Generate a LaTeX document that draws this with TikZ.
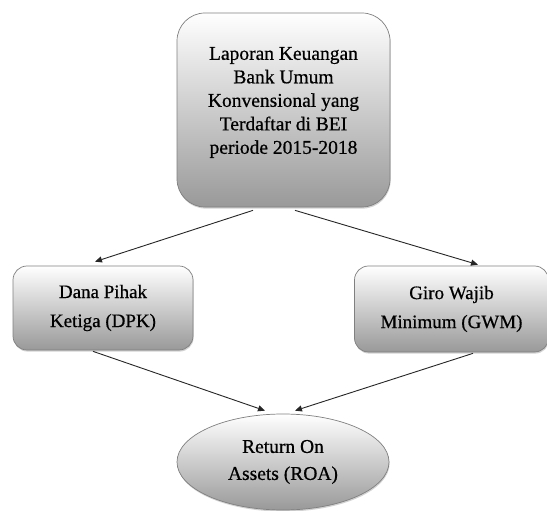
\documentclass[tikz,border=0pt]{standalone}
\usepackage{fontspec}
\setmainfont{Liberation Serif}[FakeBold=0.6]
\usetikzlibrary{arrows.meta,shapes.geometric,shadows,calc}
\begin{document}
\begin{tikzpicture}[x=1pt,y=-1pt]
\tikzset{
 boxsty/.style={draw=black!50, line width=0.7pt, top color=white, bottom color=black!40,
   drop shadow={shadow xshift=0.6pt, shadow yshift=-1.6pt, opacity=0.35}},
 bigtxt/.style={font=\fontsize{19.5}{23.5}\selectfont, align=center, inner sep=0pt},
 sidetxt/.style={font=\fontsize{19}{29}\selectfont, align=center},
 elltxt/.style={font=\fontsize{19.5}{27}\selectfont, align=center},
 arr/.style={draw=black!85, line width=0.9pt, -{Triangle[length=7pt,width=6pt]}}
}
\useasboundingbox (0,0) rectangle (547,511);
\fill[white] (0,0) rectangle (547,511);

\node[boxsty, rounded corners=28pt, minimum width=213pt, minimum height=194pt] (topbox) at (283.5,110) {};
\node[bigtxt] (toptext) at (283.5,102.5) {Laporan Keuangan\\Bank Umum\\Konvensional yang\\Terdaftar di BEI\\periode 2015-2018};

\node[boxsty, sidetxt, rounded corners=14pt, minimum width=180pt, minimum height=84pt] (dpk) at (103,308) {Dana Pihak\\Ketiga (DPK)};
\node[boxsty, sidetxt, rounded corners=14pt, minimum width=194pt, minimum height=86pt] (gwm) at (451.5,309) {Giro Wajib\\Minimum (GWM)};

\node[boxsty, ellipse, elltxt, minimum width=212pt, minimum height=96pt, inner sep=0pt] (roa) at (283,462) {Return On\\Assets (ROA)};

\draw[arr] ([xshift=-30.5pt,yshift=-3pt]topbox.south) -- ([xshift=-8pt,yshift=4pt]dpk.north);
\draw[arr] ([xshift=11.5pt,yshift=-3pt]topbox.south) -- ([xshift=26.5pt,yshift=1pt]gwm.north);
\draw[arr] ([xshift=-10pt,yshift=-1pt]dpk.south) -- ([xshift=-18pt,yshift=3pt]roa.north);
\draw[arr] ([xshift=21.5pt,yshift=-1pt]gwm.south) -- ([xshift=12pt,yshift=3pt]roa.north);
\end{tikzpicture}
\end{document}
